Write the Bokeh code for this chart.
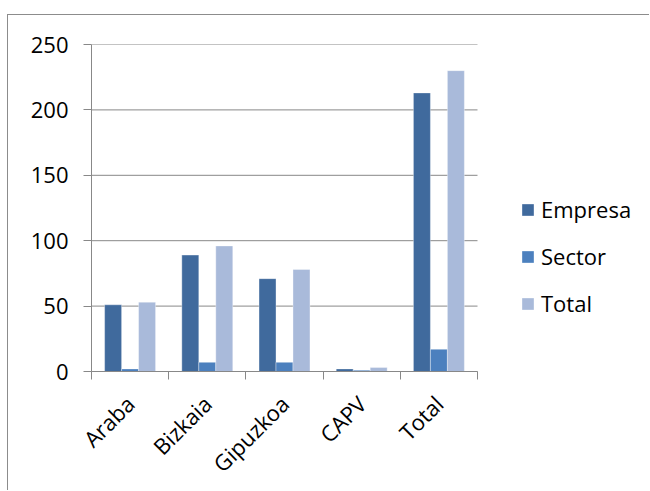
import numpy as np
from bokeh.plotting import figure
from bokeh.models import Range1d, FixedTicker, Legend, LegendItem
from bokeh.embed import file_html
from bokeh.resources import INLINE

categories = ["Araba", "Bizkaia", "Gipuzkoa", "CAPV", "Total"]
series_names = ["Empresa", "Sector", "Total"]
empresa = [51, 89, 71, 2, 213]
sector = [2, 7, 7, 1, 17]
total = [53, 96, 78, 3, 230]
y_ticks = [0, 50, 100, 150, 200, 250]

colors = ["#406A9D", "#4C80BE", "#A9BADA"]
FONT = "Open Sans"
GRID = "#888888"

n_cat = len(categories)
# frame extends right to hold the legend; category area is 386px of the 549px frame
x_end = n_cat * 549 / 386

p = figure(width=642, height=476, output_backend="svg", toolbar_location=None,
           x_range=Range1d(0, x_end), y_range=Range1d(0, 250),
           min_border_left=83, min_border_top=29, min_border_right=10,
           min_border_bottom=120, outline_line_color=None)
p.margin = (14, 0, 0, 7)
p.styles = {"border-top": "1px solid #8c8c8c", "border-left": "1px solid #8c8c8c"}

# horizontal gridlines over the category area only
p.segment(x0=[0] * len(y_ticks), x1=[n_cat] * len(y_ticks), y0=y_ticks, y1=y_ticks,
          line_color=GRID, line_width=1)

centers = np.arange(n_cat) + 0.5
offsets = [-0.22, 0.0, 0.22]
renderers = []
for vals, off, col in zip([empresa, sector, total], offsets, colors):
    r = p.vbar(x=centers + off, top=vals, width=0.22, fill_color=col,
               line_color="#ffffff", line_alpha=0.35, line_width=1)
    renderers.append(r)

# y axis
p.yaxis.ticker = FixedTicker(ticks=y_ticks)
p.yaxis.axis_line_color = GRID
p.yaxis.major_tick_line_color = GRID
p.yaxis.major_tick_out = 8
p.yaxis.major_tick_in = 0
p.yaxis.minor_tick_line_color = None
p.yaxis.major_label_text_font = FONT
p.yaxis.major_label_text_font_size = "22px"
p.yaxis.major_label_text_color = "#000000"
p.yaxis.major_label_standoff = 15

# x axis: labels at centers, ticks at boundaries (minor)
p.xaxis.ticker = FixedTicker(ticks=list(centers), minor_ticks=list(range(n_cat + 1)))
p.xaxis.major_label_overrides = {float(c): name for c, name in zip(centers, categories)}
p.xaxis.bounds = (0, n_cat)
p.xaxis.major_tick_line_color = None
p.xaxis.minor_tick_line_color = GRID
p.xaxis.minor_tick_out = 8
p.xaxis.minor_tick_in = 0
p.xaxis.axis_line_color = GRID
p.xaxis.major_label_orientation = np.pi / 4
p.xaxis.major_label_text_font = FONT
p.xaxis.major_label_text_font_size = "22px"
p.xaxis.major_label_text_color = "#000000"
p.xaxis.major_label_standoff = 20

p.xgrid.grid_line_color = None
p.ygrid.grid_line_color = None

legend = Legend(items=[LegendItem(label=n, renderers=[r]) for n, r in zip(series_names, renderers)],
                location=(429, 53), padding=0, margin=0, spacing=17,
                glyph_width=15, glyph_height=15, label_height=20, label_standoff=6,
                label_text_font=FONT, label_text_font_size="22px", label_text_color="#000000",
                border_line_alpha=0, background_fill_alpha=0)
p.add_layout(legend, "center")

open("out.html", "w").write(file_html(p, INLINE))
